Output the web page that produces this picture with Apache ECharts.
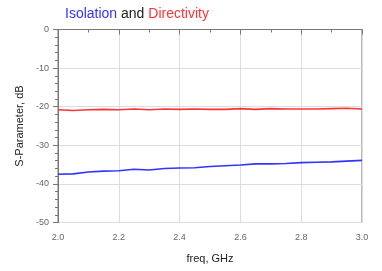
<!DOCTYPE html>
<html><head><meta charset="utf-8">
<script src="https://cdn.jsdelivr.net/npm/echarts@6/dist/echarts.min.js"></script>
<style>html,body{margin:0;padding:0;background:#fff}#c{width:382px;height:271px}</style>
</head><body><div id="c"></div>
<script>
const freq = [2.00,2.05,2.10,2.15,2.20,2.25,2.30,2.35,2.40,2.45,2.50,2.55,2.60,2.65,2.70,2.75,2.80,2.85,2.90,2.95,3.00];
const isolation = [-37.5,-37.4,-36.9,-36.7,-36.6,-36.2,-36.4,-36.0,-35.9,-35.8,-35.5,-35.3,-35.1,-34.8,-34.8,-34.7,-34.5,-34.4,-34.3,-34.1,-33.9];
const directivity = [-20.8,-21.0,-20.8,-20.7,-20.8,-20.6,-20.8,-20.6,-20.7,-20.6,-20.7,-20.7,-20.5,-20.7,-20.5,-20.6,-20.6,-20.6,-20.5,-20.4,-20.6];

const chart = echarts.init(document.getElementById('c'), null, {renderer:'canvas'});
const lbl = {color:'#666', fontSize:9, fontFamily:'Liberation Sans, Arial'};
const ff = 'Liberation Sans, Arial';
chart.setOption({
  animation:false,
  title:{
    text:'{b|Isolation}{k| and }{r|Directivity}',
    left:60, top:2,
    textStyle:{fontWeight:'normal',rich:{
      b:{color:'#3333ff',fontSize:14,fontFamily:ff,fontWeight:'normal'},
      k:{color:'#222',fontSize:14,fontFamily:ff,fontWeight:'normal'},
      r:{color:'#ff3333',fontSize:14,fontFamily:ff,fontWeight:'normal'}
    }}
  },
  grid:{left:58,right:20,top:29.5,bottom:48.5,show:true,borderColor:'#777',borderWidth:1},
  xAxis:{
    type:'value',min:2.0,max:3.0,interval:0.2,
    name:'freq, GHz',nameLocation:'middle',nameGap:31,
    nameTextStyle:{color:'#222',fontSize:11,fontFamily:ff},
    axisLine:{lineStyle:{color:'#777'}},
    axisTick:{show:true,length:5,lineStyle:{color:'#777'}},
    minorTick:{show:true,splitNumber:2,length:3,lineStyle:{color:'#777'}},
    axisLabel:Object.assign({formatter:v=>v.toFixed(1),margin:11},lbl),
    splitLine:{show:true,lineStyle:{color:'#ddd'}}
  },
  yAxis:{
    type:'value',min:-50,max:0,interval:10,
    name:'S-Parameter, dB',nameLocation:'middle',nameGap:29,
    nameTextStyle:{color:'#222',fontSize:11,fontFamily:ff},
    axisLine:{show:true,lineStyle:{color:'#777'}},
    axisTick:{show:true,length:5,lineStyle:{color:'#777'}},
    minorTick:{show:true,splitNumber:5,length:3,lineStyle:{color:'#777'}},
    axisLabel:Object.assign({margin:9},lbl),
    splitLine:{show:true,lineStyle:{color:'#ddd'}}
  },
  series:[
    {type:'line',data:freq.map((f,i)=>[f,isolation[i]]),showSymbol:false,lineStyle:{color:'#3333ff',width:1.6}},
    {type:'line',data:freq.map((f,i)=>[f,directivity[i]]),showSymbol:false,lineStyle:{color:'#ff3333',width:1.6}}
  ]
});
</script></body></html>
